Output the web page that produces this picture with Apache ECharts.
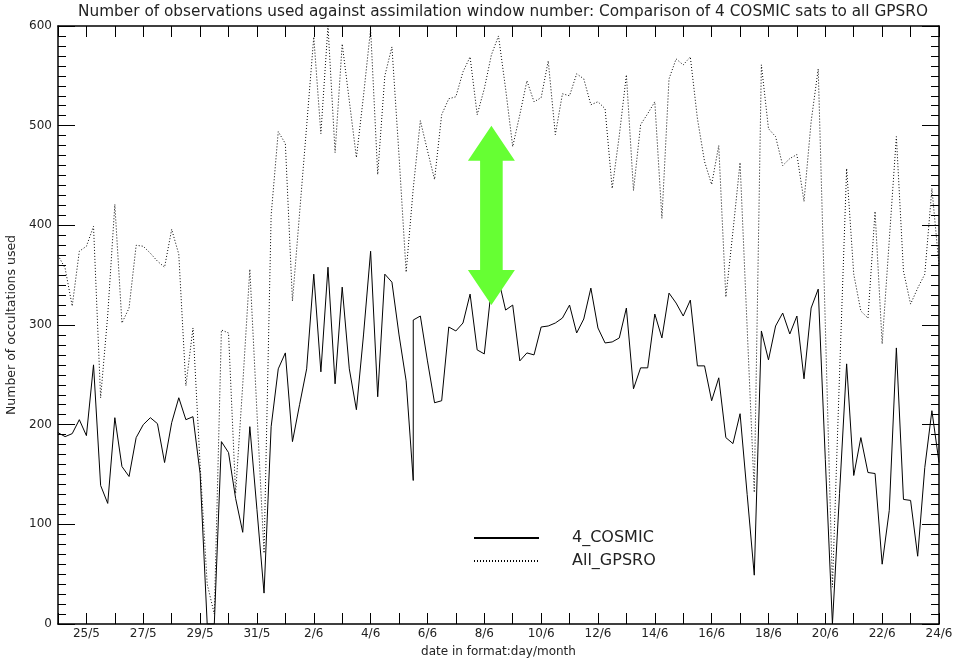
<!DOCTYPE html>
<html>
<head>
<meta charset="utf-8">
<script src="https://cdn.jsdelivr.net/npm/echarts@6.0.0/dist/echarts.min.js"></script>
<style>
html, body { margin: 0; padding: 0; background: #fff; }
#chart { width: 972px; height: 662px; }
</style>
</head>
<body>
<div id="chart"></div>
<script>
// one tick per day from 24/5, labelled every second day
const dayLabels = ['24/5','25/5','26/5','27/5','28/5','29/5','30/5','31/5',
  '1/6','2/6','3/6','4/6','5/6','6/6','7/6','8/6','9/6','10/6','11/6','12/6',
  '13/6','14/6','15/6','16/6','17/6','18/6','19/6','20/6','21/6','22/6','23/6','24/6'];
const windowsPerDay = 4;

// occultations used per assimilation window (6 hourly)
// a pair means two values were plotted at the same window
const cosmic = [192,188,191,205,189,260,139,121,207,158,148,187,200,207,201,162,
  202,227,205,208,151,0,0,183,172,126,92,198,115,31,198,256,
  272,183,220,256,351,253,358,241,338,256,215,290,374,228,351,343,
  290,244,[144,305],309,264,222,224,298,294,302,331,275,271,337,346,315,
  320,264,272,270,298,299,302,307,320,292,306,337,297,282,283,287,
  317,236,257,257,311,287,332,322,309,325,259,259,224,247,187,181,
  211,130,49,294,265,299,312,291,309,246,317,336,165,0,131,261,
  149,187,152,151,60,114,277,125,124,68,157,214,162];
const allGpsro = [370,357,319,374,379,399,227,310,421,302,317,380,379,372,364,358,
  396,371,239,297,160,40,10,295,292,131,240,356,213,71,410,494,
  482,324,412,500,589,492,600,473,582,525,468,530,597,451,550,579,
  470,353,437,505,475,446,511,527,529,554,569,511,537,571,590,537,
  479,511,545,524,528,565,491,532,530,552,547,521,524,517,437,490,
  551,435,501,512,524,407,547,567,561,569,507,464,441,480,328,394,
  463,297,132,561,497,489,460,467,471,424,504,557,300,37,250,457,
  351,314,307,414,281,385,489,354,321,337,351,437,360];

// green double arrow (day offset, from / to value)
const arrowAt = [15.25, 500, 320];

function toPoints(vals) {
  const pts = [];
  vals.forEach(function (v, i) {
    const x = i / windowsPerDay;
    (Array.isArray(v) ? v : [v]).forEach(function (y) { pts.push([x, y]); });
  });
  return pts;
}

const chart = echarts.init(document.getElementById('chart'));
const font = 'DejaVu Sans';
const ink = '#222';
const axisLine = { show: true, onZero: false, lineStyle: { color: '#000', width: 1.5 } };

const option = {
  animation: false,
  backgroundColor: '#fff',
  title: {
    text: 'Number of observations used against assimilation window number: Comparison of 4 COSMIC sats to all GPSRO',
    left: 498, top: 0, textAlign: 'center',
    textStyle: { fontFamily: font, fontSize: 15.3, fontWeight: 'normal', color: ink }
  },
  grid: { left: 58, right: 33, top: 26, bottom: 38, outerBoundsMode: 'none' },
  legend: {
    orient: 'vertical', left: 468, top: 525,
    itemWidth: 65, itemHeight: 13, itemGap: 7,
    itemStyle: { opacity: 0 },
    textStyle: { fontFamily: font, fontSize: 16, lineHeight: 13, color: ink, padding: [0, 0, 0, 28] },
    data: ['4_COSMIC', 'All_GPSRO']
  },
  xAxis: [{
    type: 'value', min: 0, max: 31, interval: 1, position: 'bottom',
    axisLine: axisLine,
    axisTick: { inside: true, length: 11, lineStyle: { color: '#000' } },
    axisLabel: {
      fontFamily: font, fontSize: 12, color: ink, margin: 4, hideOverlap: false,
      formatter: function (v) { return v % 2 === 1 ? dayLabels[v] : ''; }
    },
    splitLine: { show: false },
    name: 'date in format:day/month', nameLocation: 'middle', nameGap: 22,
    nameTextStyle: { fontFamily: font, fontSize: 12, color: ink }
  }, {
    type: 'value', min: 0, max: 31, interval: 1, position: 'top',
    axisLine: axisLine,
    axisTick: { inside: true, length: 11, lineStyle: { color: '#000' } },
    axisLabel: { show: false },
    splitLine: { show: false }
  }],
  yAxis: [{
    type: 'value', min: 0, max: 600, interval: 100, position: 'left',
    axisLine: axisLine,
    axisTick: { inside: true, length: 17, lineStyle: { color: '#000' } },
    minorTick: { show: true, splitNumber: 10, length: 8, lineStyle: { color: '#000' } },
    axisLabel: { fontFamily: font, fontSize: 12, color: ink, margin: 6 },
    splitLine: { show: false },
    name: 'Number of occultations used', nameLocation: 'middle', nameGap: 37,
    nameTextStyle: { fontFamily: font, fontSize: 12.5, color: ink }
  }, {
    type: 'value', min: 0, max: 600, interval: 100, position: 'right',
    axisLine: axisLine,
    axisTick: { inside: true, length: 17, lineStyle: { color: '#000' } },
    minorTick: { show: true, splitNumber: 10, length: 8, lineStyle: { color: '#000' } },
    axisLabel: { show: false },
    splitLine: { show: false }
  }],
  series: [{
    name: '4_COSMIC', type: 'line', symbol: 'none',
    data: toPoints(cosmic),
    itemStyle: { color: '#000' },
    lineStyle: { color: '#000', width: 1 }
  }, {
    name: 'All_GPSRO', type: 'line', symbol: 'none',
    data: toPoints(allGpsro),
    itemStyle: { color: '#000' },
    lineStyle: { color: '#000', width: 1, type: [1, 2] }
  }]
};
chart.setOption(option);

// arrow placed from data coordinates
const pTop = chart.convertToPixel({ gridIndex: 0 }, [arrowAt[0], arrowAt[1]]);
const pBot = chart.convertToPixel({ gridIndex: 0 }, [arrowAt[0], arrowAt[2]]);
const cx = pTop[0], hw = 23.5, sw = 11.3, hh = 35;
chart.setOption({
  graphic: [{
    type: 'polygon', z: 100,
    shape: { points: [
      [cx, pTop[1]], [cx + hw, pTop[1] + hh], [cx + sw, pTop[1] + hh],
      [cx + sw, pBot[1] - hh], [cx + hw, pBot[1] - hh], [cx, pBot[1]],
      [cx - hw, pBot[1] - hh], [cx - sw, pBot[1] - hh],
      [cx - sw, pTop[1] + hh], [cx - hw, pTop[1] + hh]
    ] },
    style: { fill: '#66ff33' }
  }]
});
</script>
</body>
</html>
